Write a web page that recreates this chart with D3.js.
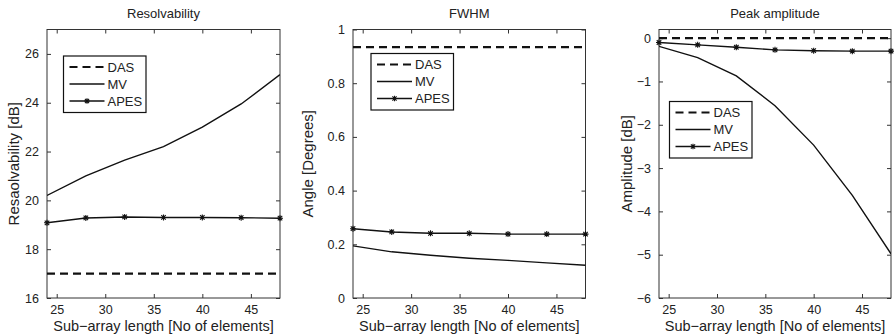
<!DOCTYPE html>
<html>
<head>
<meta charset="utf-8">
<script src="https://cdn.jsdelivr.net/npm/d3@7"></script>
<style>
  html, body { margin: 0; padding: 0; background: #fff; }
  svg { display: block; font-family: "Liberation Sans", Arial, sans-serif; }
</style>
</head>
<body>
<svg id="chart" width="896" height="335"></svg>
<script>
// ---- data ----
const xValues = [24, 28, 32, 36, 40, 44, 48];
const xTicks = [25, 30, 35, 40, 45];
const seriesNames = ["DAS", "MV", "APES"];

const resDAS  = [17.0, 17.0, 17.0, 17.0, 17.0, 17.0, 17.0];
const resMV   = [20.2, 21.0, 21.65, 22.2, 23.0, 23.95, 25.15];
const resAPES = [19.08, 19.28, 19.32, 19.3, 19.3, 19.29, 19.27];
const resTicks = [16, 18, 20, 22, 24, 26];

const fwhmDAS  = [0.934, 0.934, 0.934, 0.934, 0.934, 0.934, 0.934];
const fwhmMV   = [0.194, 0.172, 0.159, 0.148, 0.140, 0.131, 0.122];
const fwhmAPES = [0.258, 0.246, 0.241, 0.241, 0.238, 0.238, 0.238];
const fwhmTicks = [0, 0.2, 0.4, 0.6, 0.8, 1];

const ampDAS  = [0, 0, 0, 0, 0, 0, 0];
const ampMV   = [-0.19, -0.45, -0.87, -1.56, -2.47, -3.63, -4.98];
const ampAPES = [-0.10, -0.155, -0.21, -0.27, -0.29, -0.30, -0.30];
const ampTicks = [-6, -5, -4, -3, -2, -1, 0];

const titles = ["Resolvability", "FWHM", "Peak amplitude"];
const yLabels = ["Resaolvability [dB]", "Angle [Degrees]", "Amplitude [dB]"];
const xLabel = "Sub\u2212array length [No of elements]";

// ---- layout ----
const panels = [
  { left: 47,  right: 280, yDomain: [16, 27],   ticks: resTicks,  fmt: d => String(d),
    series: [resDAS, resMV, resAPES], yLabelX: 19, legend: [63.5, 56] },
  { left: 353, right: 585.5, yDomain: [0, 1],   ticks: fwhmTicks, fmt: d => String(d),
    series: [fwhmDAS, fwhmMV, fwhmAPES], yLabelX: 313, legend: [371, 53.5] },
  { left: 659, right: 891, yDomain: [-6, 0.2],  ticks: ampTicks,  fmt: d => d < 0 ? "\u2212" + Math.abs(d) : String(d),
    series: [ampDAS, ampMV, ampAPES], yLabelX: 632, legend: [669.5, 101.5] }
];
const plotTop = 29.5, plotBottom = 298;
const ink = "#111", axisColor = "#333", textColor = "#222";

const svg = d3.select("#chart");

function asterisk(g, cx, cy, r) {
  const p = d3.path();
  p.moveTo(cx - r, cy); p.lineTo(cx + r, cy);
  p.moveTo(cx, cy - r); p.lineTo(cx, cy + r);
  const q = r * 0.75;
  p.moveTo(cx - q, cy - q); p.lineTo(cx + q, cy + q);
  p.moveTo(cx - q, cy + q); p.lineTo(cx + q, cy - q);
  g.append("path").attr("d", p.toString()).attr("stroke", ink).attr("stroke-width", 1.1).attr("fill", "none");
}

panels.forEach((P, i) => {
  const x = d3.scaleLinear().domain([24, 48]).range([P.left, P.right]);
  const y = d3.scaleLinear().domain(P.yDomain).range([plotBottom, plotTop]);
  const g = svg.append("g");

  const clipId = "clip" + i;
  svg.append("clipPath").attr("id", clipId).append("rect")
    .attr("x", P.left).attr("y", plotTop - 3).attr("width", P.right - P.left).attr("height", plotBottom - plotTop + 3);

  const tickLen = 4;
  const xb = d3.axisBottom(x).tickValues(xTicks).tickSizeInner(-tickLen).tickSizeOuter(0).tickPadding(7);
  const gxb = g.append("g").attr("transform", `translate(0,${plotBottom})`).call(xb);
  const xt = d3.axisTop(x).tickValues(xTicks).tickSizeInner(-tickLen).tickSizeOuter(0).tickFormat("");
  const gxt = g.append("g").attr("transform", `translate(0,${plotTop})`).call(xt);
  const yl = d3.axisLeft(y).tickValues(P.ticks).tickSizeInner(-tickLen).tickSizeOuter(0).tickPadding(8).tickFormat(P.fmt);
  const gyl = g.append("g").attr("transform", `translate(${P.left},0)`).call(yl);
  const yr = d3.axisRight(y).tickValues(P.ticks).tickSizeInner(-tickLen).tickSizeOuter(0).tickFormat("");
  const gyr = g.append("g").attr("transform", `translate(${P.right},0)`).call(yr);
  [gxb, gxt, gyl, gyr].forEach(a => {
    a.select(".domain").remove();
    a.selectAll(".tick line").attr("stroke", axisColor).attr("stroke-width", 1);
    a.selectAll("text").attr("fill", textColor).attr("font-size", 12.5).attr("font-family", null);
  });
  g.append("rect").attr("x", P.left).attr("y", plotTop).attr("width", P.right - P.left).attr("height", plotBottom - plotTop)
    .attr("fill", "none").attr("stroke", axisColor).attr("stroke-width", 1);

  const line = d3.line().x((d, k) => x(xValues[k])).y(d => y(d));
  const dg = g.append("g").attr("clip-path", `url(#${clipId})`);
  dg.append("path").datum(P.series[0]).attr("d", line).attr("fill", "none")
    .attr("stroke", ink).attr("stroke-width", 2.2).attr("stroke-dasharray", "8,5");
  dg.append("path").datum(P.series[1]).attr("d", line).attr("fill", "none")
    .attr("stroke", ink).attr("stroke-width", 1.4);
  dg.append("path").datum(P.series[2]).attr("d", line).attr("fill", "none")
    .attr("stroke", ink).attr("stroke-width", 1.4);
  const mg = g.append("g");
  P.series[2].forEach((v, k) => asterisk(mg, x(xValues[k]), y(v), 3));

  g.append("text").attr("x", (P.left + P.right) / 2).attr("y", 18).attr("text-anchor", "middle")
    .attr("font-size", 13).attr("fill", textColor).text(titles[i]);
  g.append("text").attr("x", (P.left + P.right) / 2).attr("y", 331).attr("text-anchor", "middle")
    .attr("font-size", 14.5).attr("fill", textColor).text(xLabel);
  g.append("text").attr("transform", `translate(${P.yLabelX},${(plotTop + plotBottom) / 2}) rotate(-90)`)
    .attr("text-anchor", "middle").attr("font-size", 15).attr("fill", textColor).text(yLabels[i]);

  const [lx, ly] = P.legend;
  const lg = g.append("g").attr("transform", `translate(${lx},${ly})`);
  lg.append("rect").attr("x", 0).attr("y", 0).attr("width", 82.5).attr("height", 56.5)
    .attr("fill", "#fff").attr("stroke", ink).attr("stroke-width", 1.2);
  const rows = [11, 28, 45];
  seriesNames.forEach((name, k) => {
    const ry = rows[k];
    const l = lg.append("line").attr("x1", 6).attr("x2", 41).attr("y1", ry).attr("y2", ry).attr("stroke", ink);
    if (k === 0) l.attr("stroke-width", 2.2).attr("stroke-dasharray", "8,5");
    else l.attr("stroke-width", 1.6);
    if (k === 2) asterisk(lg, 23.5, ry, 2.8);
    lg.append("text").attr("x", 44).attr("y", ry + 4.7).attr("font-size", 13).attr("fill", textColor).text(name);
  });
});
</script>
</body>
</html>
